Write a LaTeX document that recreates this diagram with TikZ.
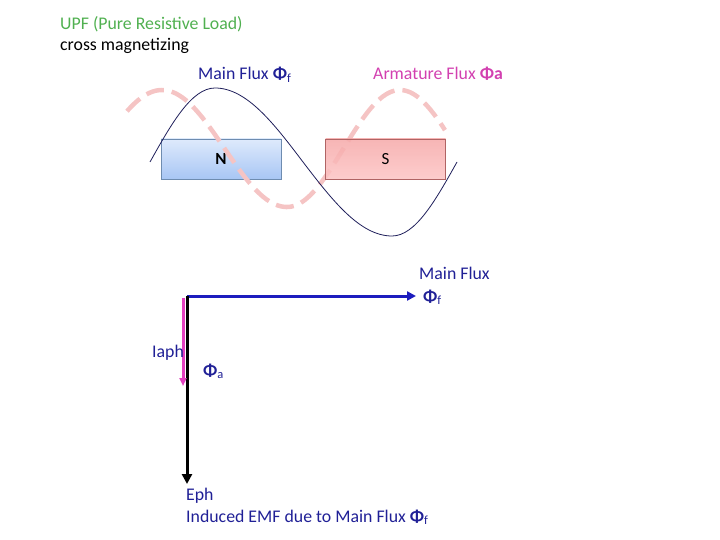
\documentclass[tikz,border=0pt]{standalone}
\usepackage{fontspec}
\setmainfont{Carlito}
\usetikzlibrary{arrows.meta}
\definecolor{upfgreen}{RGB}{80,176,80}
\definecolor{navytext}{RGB}{32,32,150}
\definecolor{armpink}{RGB}{210,64,176}
\definecolor{curvenavy}{RGB}{30,30,90}
\definecolor{dashpink}{RGB}{245,196,196}
\definecolor{vecblue}{RGB}{28,28,190}
\definecolor{vecmag}{RGB}{226,64,192}
\definecolor{ntop}{RGB}{222,234,252}
\definecolor{nbot}{RGB}{168,198,244}
\definecolor{nedge}{RGB}{110,140,176}
\definecolor{stop}{RGB}{246,168,168}
\definecolor{sbot}{RGB}{252,196,196}
\definecolor{sedge}{RGB}{176,100,100}
\tikzset{
  lbl/.style={anchor=base west, inner sep=0pt, font=\fontsize{17.8}{21}\selectfont},
  pole/.style={draw, line width=0.8pt, minimum width=120pt, minimum height=40pt, inner sep=0pt}
}
\begin{document}
\begin{tikzpicture}[x=1pt,y=-1pt]
\useasboundingbox (0,0) rectangle (720,540);
% titles
\node[lbl, text=upfgreen] (t1) at (60,30) {UPF (Pure Resistive Load)};
\node[lbl] (t2) at (60,51) {cross magnetizing};
\node[lbl, text=navytext] (mf) at (198,80) {Main Flux \textbf{Φ}\textsubscript{f}};
\node[lbl, text=armpink] (af) at (373,80) {Armature Flux \textbf{Φa}};
% N pole
\node[pole, draw=nedge, top color=ntop, bottom color=nbot] (N) at (221,159) {\fontsize{17}{20}\selectfont\textbf{N}};
% armature flux (dashed)
\draw[dashpink, line width=4.5pt, dash pattern=on 18pt off 8pt]
  plot[domain=127:287, samples=70, smooth] (\x, {148.5-58.5*cos((\x-162)*1.44)})
  -- plot[domain=287:445, samples=70, smooth] (\x, {148.5+58.5*cos((\x-287)*1.5929)});
% main flux curve
\draw[curvenavy, line width=0.8pt] (150,162) sin (215,88) cos (303,162) sin (392,236) cos (457,162);
% S pole
\node[pole, draw=sedge, top color=stop, bottom color=sbot, fill opacity=0.85, text opacity=1] (S) at (385.5,159) {\fontsize{17}{20}\selectfont S};
% phasor diagram
\coordinate (o) at (187,296);
\coordinate (fend) at (416,296);
\coordinate (eend) at (187,484);
\coordinate (mtop) at (183,298);
\coordinate (mend) at (183,386);
\draw[vecblue, line width=3pt, -{Triangle[length=9pt,width=9pt]}] (o) -- (fend);
\draw[black, line width=3pt, -{Triangle[length=10pt,width=10pt]}] (o) -- (eend);
\draw[vecmag, line width=3pt, -{Triangle[length=8pt,width=7pt]}] (mtop) -- (mend);
\node[lbl, text=navytext] (mf2) at (419,279) {Main Flux};
\node[lbl, text=navytext] (phif) at (423,302) {\textbf{Φ}\textsubscript{f}};
\node[lbl, text=navytext] (iaph) at (152,357) {Iaph};
\node[lbl, text=navytext] (phia) at (203,376) {\textbf{Φ}\textsubscript{a}};
\node[lbl, text=navytext] (eph) at (186,500) {Eph};
\node[lbl, text=navytext] (emf) at (186,522) {Induced EMF due to Main Flux \textbf{Φ}\textsubscript{f}};
\end{tikzpicture}
\end{document}
